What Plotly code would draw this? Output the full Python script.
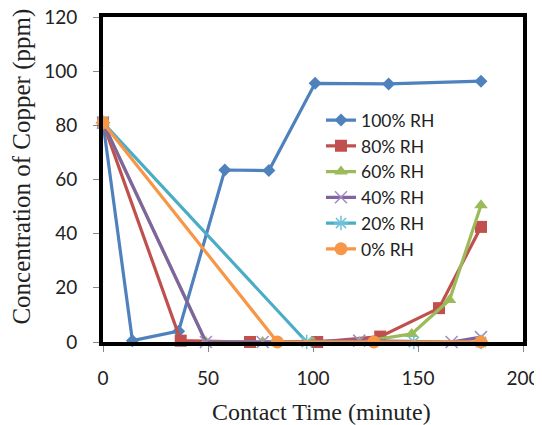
import plotly.graph_objects as go

# Data
series_names = ["100% RH", "80% RH", "60% RH", "40% RH", "20% RH", "0% RH"]
time_100 = [0, 14, 36, 58, 79, 101, 136, 180]
cu_100 = [81, 0.5, 4, 63.5, 63.3, 95.5, 95.3, 96.3]
time_80 = [0, 37, 70, 102, 132, 160, 180]
cu_80 = [81, 0.5, 0, 0, 2, 12.5, 42.5]
time_60 = [0, 49, 76, 100, 122, 147, 165, 180]
cu_60 = [81, 0, 0, 0, 0, 3, 15.5, 50.5]
time_40 = [0, 49, 76, 122, 166, 180]
cu_40 = [81, 0, 0, 0.5, 0, 1.8]
time_20 = [0, 97, 148, 180]
cu_20 = [81, 0, 0, 0]
time_0 = [0, 83, 129, 180]
cu_0 = [81, 0, 0, 0]

x_ticks = [0, 50, 100, 150, 200]
y_ticks = [0, 20, 40, 60, 80, 100, 120]
x_title = "Contact Time (minute)"
y_title = "Concentration of Copper (ppm)"

times = [time_100, time_80, time_60, time_40, time_20, time_0]
values = [cu_100, cu_80, cu_60, cu_40, cu_20, cu_0]
line_colors = ["#4F81BD", "#C0504D", "#9BBB59", "#8064A2", "#4BACC6", "#F79646"]
marker_colors = ["#4F81BD", "#C0504D", "#9BBB59", "#A08CC4", "#6FC0D8", "#F79646"]
symbols = ["diamond", "square", "triangle-up", "x-thin-open", "asterisk-open", "circle"]
sizes = [10, 12, 12, 12, 12, 13]

fig = go.Figure()
for name, t, v, lc, mc, sym, sz in zip(series_names, times, values, line_colors,
                                       marker_colors, symbols, sizes):
    marker = dict(symbol=sym, size=sz, color=mc)
    if sym.endswith("-open"):
        marker["line"] = dict(color=mc, width=1.5)
    fig.add_trace(go.Scatter(
        x=t, y=v, name=name, mode="lines+markers",
        line=dict(color=lc, width=3.2),
        marker=marker, cliponaxis=False,
    ))

# the page body adds an 8px offset, so the figure is sized to fit the window
fig.update_layout(
    width=534, height=417,
    margin=dict(l=95, r=19, t=9, b=83),
    paper_bgcolor="white", plot_bgcolor="white",
    font=dict(family="Lato", size=19, color="#222"),
    showlegend=True,
    legend=dict(
        x=0.519, y=0.738, xanchor="left", yanchor="top",
        bgcolor="rgba(0,0,0,0)", font=dict(family="Lato", size=17.5, color="#222"),
        tracegroupgap=0, itemwidth=30,
    ),
    annotations=[
        dict(text=x_title, xref="paper", yref="paper", x=0.521, y=-0.215,
             xanchor="center", yanchor="middle", showarrow=False,
             font=dict(family="Liberation Serif", size=24, color="#222")),
        dict(text=y_title, xref="paper", yref="paper", x=-0.195, y=0.54,
             xanchor="center", yanchor="middle", showarrow=False, textangle=-90,
             font=dict(family="Liberation Serif", size=25, color="#222")),
    ],
)
fig.update_xaxes(
    range=[0, 200], tickvals=x_ticks, ticktext=[str(v) for v in x_ticks],
    showgrid=False, zeroline=False, automargin=False,
    showline=True, linewidth=4, linecolor="black", mirror=True,
    ticks="outside", ticklen=6, tickwidth=1, tickcolor="#888",
    ticklabelstandoff=10, ticklabeloverflow="allow",
)
fig.update_yaxes(
    range=[0, 120], tickvals=y_ticks, ticktext=[str(v) for v in y_ticks],
    showgrid=False, zeroline=False, automargin=False,
    showline=True, linewidth=4, linecolor="black", mirror=True,
    ticks="outside", ticklen=6, tickwidth=1, tickcolor="#888",
    ticklabelstandoff=12, ticklabeloverflow="allow",
)

fig.write_html("out.html")
